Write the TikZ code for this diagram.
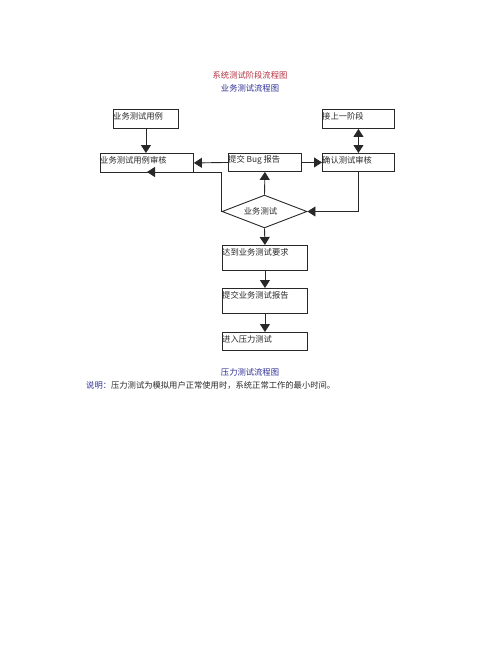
\documentclass[tikz,border=0pt]{standalone}
\usepackage{fontspec}
\newfontfamily\cjk{Noto Sans CJK SC}
\usetikzlibrary{arrows.meta,shapes.geometric}
\definecolor{ttred}{RGB}{180,50,65}
\definecolor{ttblue}{RGB}{45,45,150}
\definecolor{ink}{RGB}{40,40,40}
\tikzset{
  box/.style={draw=ink, line width=0.9pt, rectangle, inner sep=0pt, anchor=north west},
  boxtext/.style={anchor=west, inner sep=0pt, text=ink, font=\cjk\fontsize{8.3}{10}\selectfont},
  title/.style={inner sep=0pt, font=\cjk\fontsize{8.3}{10}\selectfont},
  conn/.style={draw=ink, line width=0.9pt},
  arr/.style={conn, -{Triangle[width=10pt,length=8pt]}},
  darr/.style={conn, {Triangle[width=10pt,length=8pt]}-{Triangle[width=10pt,length=8pt]}},
  dia/.style={draw=ink, line width=0.9pt, diamond, inner sep=0pt, minimum width=85pt, minimum height=31pt, text=ink, font=\cjk\fontsize{8.3}{10}\selectfont}
}
\begin{document}
\begin{tikzpicture}[x=1pt,y=-1pt]
\useasboundingbox (0,0) rectangle (500,653);
% titles
\node[title, text=ttred] (t1) at (250,75) {系统测试阶段流程图};
\node[title, text=ttblue] (t2) at (250,88) {业务测试流程图};
% boxes
\node[box, minimum width=65pt, minimum height=19pt] (uc) at (113,109) {};
\node[boxtext] (ucT) at (113,116.5) {业务测试用例};
\node[box, minimum width=93pt, minimum height=19pt] (ucr) at (100,153) {};
\node[boxtext] (ucrT) at (100,160) {业务测试用例审核};
\node[box, minimum width=73pt, minimum height=18pt] (bug) at (228,153) {};
\node[boxtext] (bugT) at (228,160) {提交 Bug 报告};
\node[box, minimum width=72pt, minimum height=18pt] (conf) at (322,153) {};
\node[boxtext] (confT) at (322,160) {确认测试审核};
\node[box, minimum width=72pt, minimum height=19pt] (prev) at (322,109) {};
\node[boxtext] (prevT) at (322,116.5) {接上一阶段};
\node[dia] (test) at (264.5,211.5) {\hspace*{-8pt}业务测试};
\node[box, minimum width=85pt, minimum height=25pt] (reach) at (222,245) {};
\node[boxtext] (reachT) at (222,252) {达到业务测试要求};
\node[box, minimum width=85pt, minimum height=25pt] (rep) at (222,288) {};
\node[boxtext] (repT) at (222,295) {提交业务测试报告};
\node[box, minimum width=85pt, minimum height=18pt] (press) at (222,332) {};
\node[boxtext] (pressT) at (222,339) {进入压力测试};
% bottom texts
\node[title, text=ttblue] (t3) at (250,372) {压力测试流程图};
\node[title, anchor=west, text=ink] (note) at (86,385) {\textcolor{ttblue}{说明：}压力测试为模拟用户正常使用时，系统正常工作的最小时间。};
% connectors
\coordinate (ucrIn) at (147,172);
\draw[arr] (uc.south) -- (uc.south |- ucr.north);
\draw[darr] (prev.south) -- (conf.north);
\draw[arr] (bug.west) -- (ucr.east);
\draw[arr] (bug.east) -- (conf.west);
\draw[arr] (test.north) -- (bug.south);
\draw[arr] (conf.south) |- (test.east);
\draw[arr] (test.west) |- (ucrIn);
\draw[arr] (test.south) -- (reach.north);
\draw[arr] (reach.south) -- (rep.north);
\draw[arr] (rep.south) -- (press.north);
\end{tikzpicture}
\end{document}
